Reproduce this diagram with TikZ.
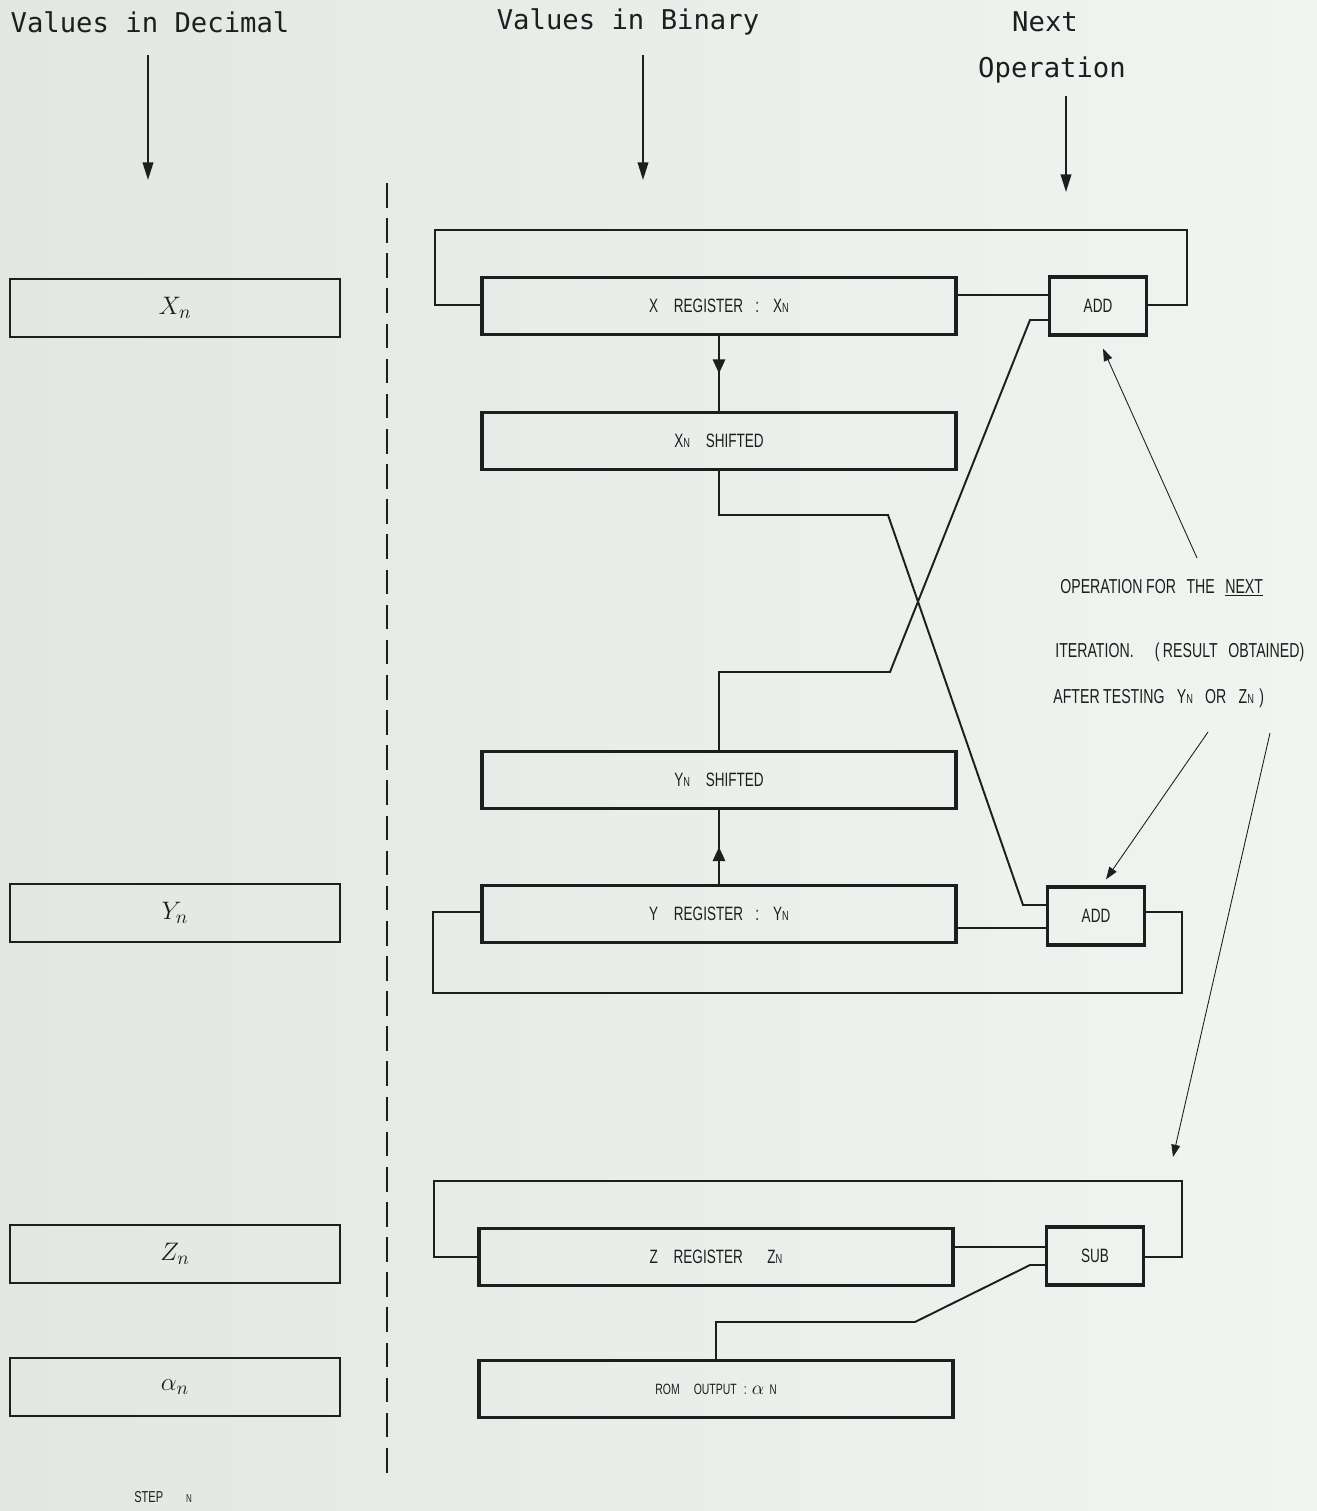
\documentclass[tikz,border=0pt]{standalone}
\usepackage{fontspec}
\usetikzlibrary{arrows.meta,decorations.markings,calc}
\newfontfamily\hdrfont{DejaVu Sans Mono}
\newfontfamily\condfont[FakeStretch=0.7]{Liberation Sans}
\definecolor{ink}{RGB}{30,30,30}
\definecolor{bgl}{RGB}{226,231,226}
\definecolor{bgr}{RGB}{241,245,241}
\begin{document}
\begin{tikzpicture}[x=0.02cm,y=-0.02cm,
  reg/.style={draw=ink,line width=1.9pt,minimum width=9.48cm,minimum height=1.14cm,inner sep=0pt,font=\condfont\fontsize{11}{12}\selectfont,text=ink},
  opbox/.style={draw=ink,line width=1.9pt,minimum width=1.94cm,minimum height=1.16cm,inner sep=0pt,font=\condfont\fontsize{11}{12}\selectfont,text=ink},
  decbox/.style={draw=ink,line width=1.5pt,minimum width=6.6cm,minimum height=1.16cm,inner sep=0pt,font=\fontsize{15}{18}\selectfont,text=ink},
  wire/.style={draw=ink,line width=1.1pt},
  midarrow/.style={wire,postaction={decorate},decoration={markings,mark=at position 0.5 with {\arrow{Triangle[length=8pt,width=7pt]}}}},
  hdrarrow/.style={draw=ink,line width=1.1pt,-{Triangle[length=10pt,width=6pt]}},
  annarrow/.style={draw=ink,line width=0.5pt,-{Triangle[length=7pt,width=5pt]}},
  hdr/.style={font=\hdrfont\fontsize{15.5}{18}\selectfont,text=ink,inner sep=0pt},
  ann/.style={font=\condfont\fontsize{11.5}{13}\selectfont,text=ink,inner sep=0pt,anchor=west}]
\useasboundingbox (0,0) rectangle (1317,1511);
\shade[left color=bgl,right color=bgr] (0,0) rectangle (1317,1511);

% headers
\node[hdr] (hdec) at (150,22) {Values in Decimal};
\node[hdr] (hbin) at (628,22) {Values in Binary};
\node[hdr] (hnext) at (1045,22) {Next};
\node[hdr] (hop) at (1052,70) {Operation};
\coordinate (a1s) at (148,55);  \coordinate (a1e) at (148,180);
\coordinate (a2s) at (643,55);  \coordinate (a2e) at (643,180);
\coordinate (a3s) at (1066,96); \coordinate (a3e) at (1066,192);
\draw[hdrarrow] (a1s) -- (a1e);
\draw[hdrarrow] (a2s) -- (a2e);
\draw[hdrarrow] (a3s) -- (a3e);

% dashed divider
\coordinate (dv1) at (387,183); \coordinate (dv2) at (387,1480);
\draw[ink,line width=1.1pt,dash pattern=on 14pt off 6pt] (dv1) -- (dv2);

% decimal boxes
\node[decbox] (dX) at (175,308) {$X_n$};
\node[decbox] (dY) at (175,913) {$Y_n$};
\node[decbox] (dZ) at (175,1254) {$Z_n$};
\node[decbox] (dA) at (175,1387) {$\alpha_n$};
\node[font=\condfont\fontsize{9}{10}\selectfont,text=ink,anchor=west,inner sep=0pt] (step) at (134,1497) {STEP\hspace{13pt}{\fontsize{6.5}{7}\selectfont N}};

% binary registers
\node[reg] (xreg) at (719,306) {X\hspace{9pt}REGISTER\hspace{7pt}:\hspace{8pt}X{\fontsize{7.5}{8}\selectfont N}};
\node[reg] (xsh) at (719,441) {X{\fontsize{7.5}{8}\selectfont N}\hspace{9pt}SHIFTED};
\node[reg] (ysh) at (719,780) {Y{\fontsize{7.5}{8}\selectfont N}\hspace{9pt}SHIFTED};
\node[reg] (yreg) at (719,914) {Y\hspace{9pt}REGISTER\hspace{7pt}:\hspace{8pt}Y{\fontsize{7.5}{8}\selectfont N}};
\node[reg] (zreg) at (716,1257) {Z\hspace{9pt}REGISTER\hspace{14pt}Z{\fontsize{7.5}{8}\selectfont N}};
\node[reg] (rom) at (716,1389) {{\fontsize{8.5}{10}\selectfont ROM\hspace{8pt}OUTPUT\hspace{4pt}:\hspace{3pt}}$\alpha$\hspace{3pt}{\fontsize{8}{9}\selectfont N}};

\node[opbox] (add1) at (1098,306) {ADD};
\node[opbox] (add2) at (1096,916) {ADD};
\node[opbox] (sub) at (1095,1256) {SUB};

% X register connections
\draw[wire] (xreg.east |- 0,295) -- (add1.west |- 0,295);
\draw[wire] (add1.east |- 0,305) -- (1187,305) -- (1187,230) -- (435,230) -- (435,305) -- (xreg.west |- 0,305);
\draw[midarrow] (xreg.south) -- (xsh.north);
\draw[wire] (add1.west |- 0,320) -- (1030,320) -- (890,672) -- (719,672) -- (ysh.north);
\draw[wire] (xsh.south) -- (719,515) -- (888,515) -- (1023,905) -- (add2.west |- 0,905);

% Y register connections
\draw[midarrow] (yreg.north) -- (ysh.south);
\draw[wire] (yreg.east |- 0,928) -- (add2.west |- 0,928);
\draw[wire] (add2.east |- 0,912) -- (1182,912) -- (1182,993) -- (433,993) -- (433,912) -- (yreg.west |- 0,912);

% Z register connections
\draw[wire] (zreg.east |- 0,1247) -- (sub.west |- 0,1247);
\draw[wire] (sub.east |- 0,1257) -- (1182,1257) -- (1182,1181) -- (434,1181) -- (434,1257) -- (zreg.west |- 0,1257);
\draw[wire] (sub.west |- 0,1265) -- (1030,1265) -- (915,1322) -- (716,1322) -- (rom.north);

% annotation
\node[ann] (t1) at (1060,588) {OPERATION\hspace{2pt}FOR\hspace{6pt}THE\hspace{6pt}\underline{NEXT}};
\node[ann] (t2) at (1055,652) {ITERATION.\hspace{12pt}(\hspace{2pt}RESULT\hspace{6pt}OBTAINED)};
\node[ann] (t3) at (1053,698) {AFTER\hspace{2pt}TESTING\hspace{7pt}Y{\fontsize{7.5}{8}\selectfont N}\hspace{7pt}OR\hspace{7pt}Z{\fontsize{7.5}{8}\selectfont N}\hspace{3pt})};
\coordinate (n1) at (1197,558);
\coordinate (n2) at (1208,732);
\coordinate (n3) at (1270,733);
\coordinate (n3e) at (1173,1157);
\draw[annarrow] (n1) -- ($(add1.south)+(5,12)$);
\draw[annarrow] (n2) -- ($(add2.north)+(10,-6)$);
\draw[annarrow] (n3) -- (n3e);
\end{tikzpicture}
\end{document}
